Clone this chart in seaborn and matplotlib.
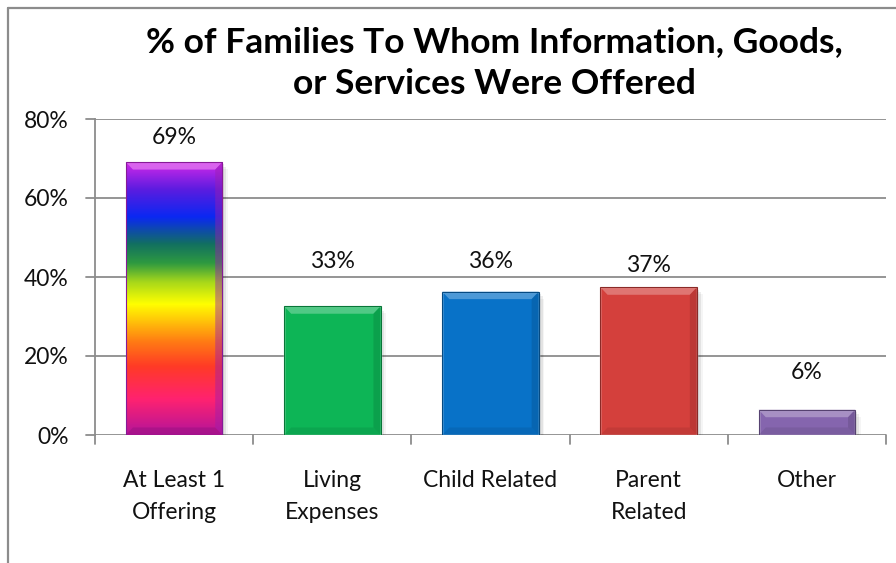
import numpy as np
import pandas as pd
import matplotlib
matplotlib.use("Agg")
import matplotlib.pyplot as plt
from matplotlib.colors import LinearSegmentedColormap, to_rgb
from matplotlib.patches import Polygon, Rectangle
from matplotlib.lines import Line2D
import seaborn as sns

# ---- data ----
categories = ["At Least 1\nOffering", "Living\nExpenses", "Child Related",
              "Parent\nRelated", "Other"]
percent = [69.1, 32.6, 36.3, 37.4, 6.4]
bar_colors = ["#7A22E0", "#0DB556", "#0872C8", "#D4403C", "#8565AE"]
label_heights = [75.4, 43.8, 43.8, 43.0, 15.7]  # y position of value labels
title = "% of Families To Whom Information, Goods,\nor Services Were Offered"
yticks = [0, 20, 40, 60, 80]

# rainbow fill used for the first bar (bottom -> top)
rainbow_stops = [(0.00, "#B4149A"), (0.13, "#FF2270"), (0.25, "#FF3A26"),
                 (0.34, "#FF7A14"), (0.48, "#FFFF00"), (0.56, "#A8D81A"),
                 (0.63, "#2E9A40"), (0.70, "#127060"), (0.80, "#0A28F2"),
                 (0.90, "#5A1CE0"), (1.00, "#D028E8")]

sns.set_theme(style="white")
plt.rcParams["font.family"] = ["Lato", "DejaVu Sans"]

FS = 16.5

fig = plt.figure(figsize=(8.96, 5.63), dpi=100)
ax = fig.add_axes([95 / 896, 1 - 435 / 563, 791 / 896, 316 / 563])

df = pd.DataFrame({"category": categories, "percent": percent})
sns.barplot(data=df, x="category", y="percent", hue="category",
            palette=bar_colors, legend=False, width=0.61, ax=ax,
            saturation=1, zorder=3)

ax.set_ylim(0, 80)
ax.set_xlim(-0.5, len(categories) - 0.5)
ax.set_yticks(yticks)
ax.set_yticklabels([f"{t}%" for t in yticks], fontsize=FS, color="#111111")
ax.set_xlabel("")
ax.set_ylabel("")
ax.tick_params(axis="x", length=0, pad=25, labelsize=FS, labelcolor="#111111")
ax.tick_params(axis="y", length=0, pad=19)
for lab in ax.get_xticklabels():
    lab.set_linespacing(1.65)

# gridlines and axis lines
for t in yticks:
    ax.axhline(t, color="#8C8C8C", lw=1.3, zorder=1)
for s in ["top", "right", "bottom"]:
    ax.spines[s].set_visible(False)
ax.spines["left"].set_color("#8C8C8C")
ax.spines["left"].set_linewidth(1.3)

# outside tick marks: y ticks to the left, x ticks at category boundaries
for t in yticks:
    ax.add_line(Line2D([-0.5 - 0.06, -0.5], [t, t], color="#8C8C8C", lw=1.3,
                       clip_on=False, zorder=2))
for b in np.arange(len(categories) + 1) - 0.5:
    ax.add_line(Line2D([b, b], [0, -2.4], color="#8C8C8C", lw=1.3,
                       clip_on=False, zorder=2))


def shade(c, f):
    r, g, b = to_rgb(c)
    if f >= 0:
        return (r + (1 - r) * f, g + (1 - g) * f, b + (1 - b) * f)
    return (r * (1 + f), g * (1 + f), b * (1 + f))


cmap = LinearSegmentedColormap.from_list("rainbow_fill", rainbow_stops)
bx, by = 0.045, 1.9  # bevel size in data units

for i, patch in enumerate(ax.patches):
    x0, w, h = patch.get_x(), patch.get_width(), patch.get_height()
    x1 = x0 + w
    base = bar_colors[i]
    # soft drop shadow
    for k, a in enumerate([0.10, 0.07, 0.04]):
        d = 0.012 * (k + 1)
        ax.add_patch(Rectangle((x0 + d, -0.6 * (k + 1)), w, h, color="black",
                               alpha=a, lw=0, zorder=2))
    if i == 0:
        patch.set_alpha(0)
        grad = np.linspace(0, 1, 256).reshape(-1, 1)
        ax.imshow(grad, cmap=cmap, origin="lower", aspect="auto",
                  extent=(x0, x1, 0, h), zorder=3.5)
        top_c, bot_c = "#D028E8", "#B4149A"
    else:
        top_c = bot_c = base
    # bevel facets: lit top, shaded right side and bottom
    facets = [
        ([(x0, h), (x1, h), (x1 - bx, h - by), (x0 + bx, h - by)], shade(top_c, 0.35), 0.8),
        ([(x1, 0), (x1, h), (x1 - bx, h - by), (x1 - bx, by)], shade(top_c, -0.25), 0.45),
        ([(x0, 0), (x1, 0), (x1 - bx, by), (x0 + bx, by)], shade(bot_c, -0.2), 0.4),
    ]
    for pts, col, a in facets:
        ax.add_patch(Polygon(pts, closed=True, color=col, alpha=a, lw=0, zorder=4))
    ax.add_patch(Rectangle((x0, 0), w, h, fill=False,
                           edgecolor=shade(top_c, -0.35), lw=0.8, zorder=4.5))
    # value label
    ax.text(patch.get_x() + w / 2, label_heights[i], f"{percent[i]:.0f}%",
            ha="center", va="center", fontsize=FS, color="#111111", zorder=5)

# chart title
fig.text(494 / 896, 1 - 63 / 563, title, ha="center", va="center",
         fontsize=25.5, fontweight="bold", color="#000000", linespacing=1.35)

# outer chart frame (left and top edges)
fig.add_artist(Line2D([8 / 896, 8 / 896], [0, 1 - 8 / 563], color="#8C8C8C",
                      lw=1.6, transform=fig.transFigure))
fig.add_artist(Line2D([8 / 896, 1], [1 - 8 / 563, 1 - 8 / 563], color="#8C8C8C",
                      lw=1.6, transform=fig.transFigure))

fig.savefig("out.png", dpi=100)
